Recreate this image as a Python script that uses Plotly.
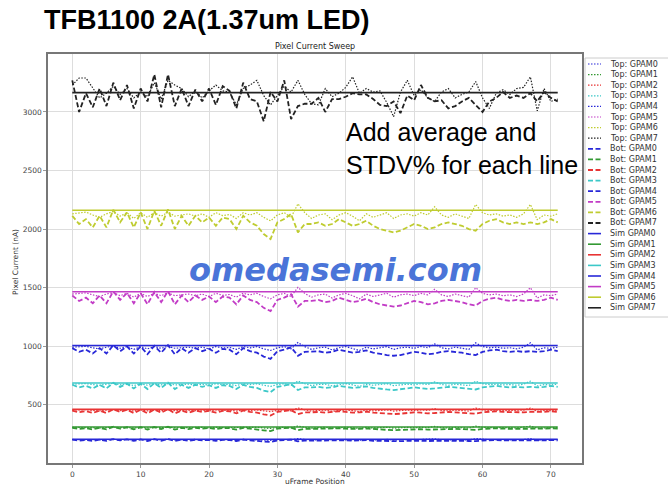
import plotly.graph_objects as go

frames = list(range(72))
gpam_names = ["GPAM0", "GPAM1", "GPAM2", "GPAM3", "GPAM4", "GPAM5", "GPAM6", "GPAM7"]
colors = ["#2828d8", "#339933", "#e83434", "#3cc8c8", "#2828d8", "#c23cc6", "#bfcc30", "#222222"]
sim_values = [205, 310, 460, 685, 1005, 1465, 2160, 3165]

top_gpam0 = [202, 203, 204, 201, 199, 202, 204, 200, 203, 198, 203, 199, 203, 200, 204, 200, 201, 202, 200, 202,
             199, 203, 201, 202, 198, 203, 201, 203, 199, 196, 201, 203, 199, 210, 203, 198, 201, 202, 197, 201,
             203, 200, 196, 202, 199, 201, 203, 198, 201, 202, 200, 203, 201, 208, 201, 199, 202, 200, 198, 210,
             203, 201, 202, 200, 201, 199, 202, 210, 197, 201, 200, 202]
top_gpam1 = [306, 307, 308, 304, 301, 306, 309, 303, 307, 300, 307, 301, 307, 303, 308, 303, 304, 306, 303, 306,
             301, 307, 304, 305, 300, 307, 304, 307, 301, 297, 304, 307, 301, 318, 307, 300, 304, 306, 299, 304,
             307, 303, 297, 306, 301, 304, 307, 300, 304, 306, 303, 307, 304, 314, 304, 301, 306, 303, 300, 317,
             307, 304, 306, 303, 304, 301, 306, 317, 299, 304, 303, 306]
top_gpam2 = [454, 456, 457, 451, 447, 454, 458, 449, 456, 445, 456, 447, 456, 449, 457, 449, 451, 454, 449, 454,
             447, 456, 450, 453, 445, 456, 451, 456, 447, 441, 451, 456, 447, 472, 456, 445, 451, 454, 443, 451,
             456, 449, 441, 454, 447, 451, 456, 445, 451, 454, 449, 456, 451, 466, 451, 447, 454, 449, 445, 471,
             456, 451, 454, 449, 451, 447, 454, 471, 443, 451, 449, 454]
top_gpam3 = [675, 679, 680, 672, 666, 675, 682, 669, 679, 663, 679, 666, 679, 669, 680, 669, 672, 675, 669, 675,
             666, 679, 671, 674, 663, 679, 672, 679, 666, 656, 672, 679, 666, 702, 679, 663, 672, 675, 660, 672,
             679, 669, 656, 675, 666, 672, 679, 663, 672, 675, 669, 679, 672, 695, 672, 666, 675, 669, 663, 701,
             679, 672, 675, 669, 672, 666, 675, 701, 660, 672, 669, 675]
top_gpam4 = [991, 996, 998, 986, 977, 991, 1000, 982, 996, 972, 996, 977, 996, 982, 998, 982, 986, 991, 982, 991,
             977, 996, 984, 989, 972, 996, 986, 996, 977, 963, 986, 996, 977, 1031, 996, 972, 986, 991, 968, 986,
             996, 982, 963, 991, 977, 986, 996, 972, 986, 991, 982, 996, 986, 1019, 986, 977, 991, 982, 972, 1028,
             996, 986, 991, 982, 986, 977, 991, 1028, 968, 986, 982, 991]
top_gpam5 = [1445, 1451, 1455, 1438, 1424, 1445, 1458, 1431, 1451, 1418, 1451, 1424, 1451, 1431, 1455, 1431, 1438,
             1445, 1431, 1445, 1424, 1451, 1434, 1441, 1418, 1451, 1438, 1451, 1424, 1404, 1438, 1451, 1424, 1502,
             1451, 1418, 1438, 1445, 1411, 1438, 1451, 1431, 1404, 1445, 1424, 1438, 1451, 1418, 1438, 1445, 1431,
             1451, 1438, 1485, 1438, 1424, 1445, 1431, 1418, 1499, 1451, 1438, 1445, 1431, 1438, 1424, 1445, 1499,
             1411, 1438, 1431, 1445]
top_gpam6 = [2130, 2140, 2145, 2120, 2100, 2130, 2150, 2110, 2140, 2090, 2140, 2100, 2140, 2110, 2145, 2110, 2120,
             2130, 2110, 2130, 2100, 2140, 2115, 2125, 2090, 2140, 2120, 2140, 2100, 2070, 2120, 2140, 2100, 2215,
             2140, 2090, 2120, 2130, 2080, 2120, 2140, 2110, 2070, 2130, 2100, 2120, 2140, 2090, 2120, 2130, 2110,
             2140, 2120, 2190, 2120, 2100, 2130, 2110, 2090, 2210, 2140, 2120, 2130, 2110, 2120, 2100, 2130, 2210,
             2080, 2120, 2110, 2130]
top_gpam7 = [3230, 3290, 3290, 3200, 3120, 3160, 3220, 3150, 3200, 3120, 3170, 3130, 3250, 3110, 3270, 3230, 3200,
             3130, 3180, 3120, 3180, 3230, 3180, 3170, 3060, 3200, 3230, 3270, 3140, 3060, 3140, 3220, 3170, 3270,
             3150, 3070, 3060, 3200, 3130, 3160, 3210, 3300, 3160, 3200, 3170, 3180, 3080, 2960, 3170, 3270, 3140,
             3190, 3120, 3090, 3170, 3200, 3120, 3150, 3170, 3260, 3120, 3030, 3160, 3190, 3150, 3200, 3210, 3300,
             3010, 3200, 3090, 3110]

bot_gpam0 = [201, 194, 198, 191, 201, 191, 205, 195, 203, 191, 203, 190, 205, 192, 206, 190, 201, 192, 201, 195,
             199, 192, 199, 198, 190, 201, 195, 192, 186, 182, 195, 198, 202, 187, 194, 194, 195, 192, 194, 198,
             195, 192, 194, 197, 192, 190, 188, 187, 188, 191, 194, 192, 190, 191, 194, 195, 194, 192, 190, 188,
             194, 197, 198, 195, 194, 195, 194, 195, 194, 195, 198, 195]
bot_gpam1 = [303, 293, 299, 289, 303, 289, 311, 295, 307, 289, 307, 287, 309, 291, 311, 287, 303, 291, 303, 295,
             301, 291, 301, 299, 287, 303, 295, 291, 281, 275, 295, 299, 305, 283, 293, 293, 295, 291, 293, 299,
             295, 291, 293, 297, 291, 287, 285, 283, 285, 289, 293, 291, 287, 289, 293, 295, 293, 291, 287, 285,
             293, 297, 299, 295, 293, 295, 293, 295, 293, 295, 299, 295]
bot_gpam2 = [450, 435, 444, 429, 450, 429, 461, 438, 456, 429, 456, 426, 459, 432, 462, 426, 450, 432, 450, 438,
             447, 432, 447, 444, 426, 450, 438, 432, 417, 408, 438, 444, 453, 420, 435, 435, 438, 432, 435, 444,
             438, 432, 435, 441, 432, 426, 423, 420, 423, 429, 435, 432, 426, 429, 435, 438, 435, 432, 426, 423,
             435, 441, 444, 438, 435, 438, 435, 438, 435, 438, 444, 438]
bot_gpam3 = [670, 648, 661, 639, 670, 639, 687, 652, 679, 639, 679, 634, 684, 643, 688, 634, 670, 643, 670, 652,
             666, 643, 666, 661, 634, 670, 652, 643, 621, 607, 652, 661, 675, 625, 648, 648, 652, 643, 648, 661,
             652, 643, 648, 657, 643, 634, 630, 625, 630, 639, 648, 643, 634, 639, 648, 652, 648, 643, 634, 630,
             648, 657, 661, 652, 648, 652, 648, 652, 648, 652, 661, 652]
bot_gpam4 = [983, 951, 970, 937, 983, 937, 1007, 957, 997, 937, 997, 931, 1003, 944, 1009, 931, 983, 944, 983, 957,
             977, 944, 977, 970, 931, 983, 957, 944, 911, 891, 957, 970, 990, 918, 951, 951, 957, 944, 951, 970,
             957, 944, 951, 964, 944, 931, 924, 918, 924, 937, 951, 944, 931, 937, 951, 957, 951, 944, 931, 924,
             951, 964, 970, 957, 951, 957, 951, 957, 951, 957, 970, 957]
bot_gpam5 = [1433, 1386, 1414, 1366, 1433, 1366, 1468, 1395, 1453, 1366, 1453, 1357, 1462, 1376, 1470, 1357, 1433,
             1376, 1433, 1395, 1424, 1376, 1424, 1414, 1357, 1433, 1395, 1376, 1327, 1299, 1395, 1414, 1443, 1338,
             1386, 1386, 1395, 1376, 1386, 1414, 1395, 1376, 1386, 1405, 1376, 1357, 1347, 1338, 1347, 1366, 1386,
             1376, 1357, 1366, 1386, 1395, 1386, 1376, 1357, 1347, 1386, 1405, 1414, 1395, 1386, 1395, 1386, 1395,
             1386, 1395, 1414, 1395]
bot_gpam6 = [2113, 2043, 2085, 2014, 2113, 2014, 2165, 2057, 2142, 2014, 2142, 2000, 2156, 2028, 2168, 2000, 2113,
             2028, 2113, 2057, 2099, 2028, 2099, 2085, 2000, 2113, 2057, 2028, 1957, 1915, 2057, 2085, 2128, 1972,
             2043, 2043, 2057, 2028, 2043, 2085, 2057, 2028, 2043, 2071, 2028, 2000, 1986, 1972, 1986, 2014, 2043,
             2028, 2000, 2014, 2043, 2057, 2043, 2028, 2000, 1986, 2043, 2071, 2085, 2057, 2043, 2057, 2043, 2057,
             2043, 2057, 2085, 2057]
bot_gpam7 = [3270, 3000, 3160, 3040, 3200, 3050, 3250, 3100, 3230, 3030, 3200, 3090, 3320, 3040, 3320, 3050, 3200,
             3050, 3190, 3090, 3200, 3060, 3220, 3180, 3030, 3250, 3110, 3090, 2920, 3170, 3090, 3270, 2940, 3050,
             3070, 3070, 3120, 3000, 3110, 3110, 3130, 3160, 3150, 3150, 3110, 3060, 3050, 3090, 2990, 3140, 3100,
             3230, 3120, 3090, 3100, 3030, 3050, 3090, 3120, 3060, 3000, 3090, 3120, 3170, 3120, 3140, 3120, 3160,
             3090, 3170, 3120, 3090]

top_series = [top_gpam0, top_gpam1, top_gpam2, top_gpam3, top_gpam4, top_gpam5, top_gpam6, top_gpam7]
bot_series = [bot_gpam0, bot_gpam1, bot_gpam2, bot_gpam3, bot_gpam4, bot_gpam5, bot_gpam6, bot_gpam7]

x_ticks = [0, 10, 20, 30, 40, 50, 60, 70]
y_ticks = [500, 1000, 1500, 2000, 2500, 3000]

W, H = 668, 492
ML, MR, MT, MB = 48, 86, 54, 29
PW, PH = W - ML - MR, H - MT - MB


def px(x):
    return (x - ML) / PW


def py(y):
    return (H - MB - y) / PH


DOT = "1.5px,1.5px"
DASH = "5px,2.5px"

fig = go.Figure()
for name, col, ys in zip(gpam_names, colors, top_series):
    fig.add_trace(go.Scatter(x=frames, y=ys, mode="lines", name="Top: " + name,
                             line=dict(color=col, width=1.2, dash=DOT)))
for name, col, ys in zip(gpam_names, colors, bot_series):
    fig.add_trace(go.Scatter(x=frames, y=ys, mode="lines", name="Bot: " + name,
                             line=dict(color=col, width=1.8, dash=DASH)))
for name, col, s in zip(gpam_names, colors, sim_values):
    fig.add_trace(go.Scatter(x=frames, y=[s] * len(frames), mode="lines", name="Sim " + name,
                             line=dict(color=col, width=1.6)))

tick_font = dict(family="DejaVu Sans", size=7.5, color="#444444")
axis_common = dict(showgrid=True, gridcolor="#dddddd", gridwidth=1, zeroline=False,
                   showline=True, linecolor="#777777", linewidth=1.5, mirror=True,
                   ticks="outside", ticklen=3, tickcolor="#999999", tickfont=tick_font)

fig.update_layout(
    width=W, height=H,
    margin=dict(l=ML, r=MR, t=MT, b=MB),
    paper_bgcolor="white", plot_bgcolor="white",
    showlegend=False,
    xaxis=dict(range=[-3.55, 74.55], tickvals=x_ticks, **axis_common),
    yaxis=dict(range=[2, 3495], tickvals=y_ticks, **axis_common),
)

annotations = [
    dict(text="<b>TFB1100 2A(1.37um LED)</b>", x=px(42), y=py(20), xanchor="left", yanchor="middle",
         font=dict(family="Liberation Sans", size=27, color="black")),
    dict(text="Pixel Current Sweep", x=px(315), y=py(47), xanchor="center", yanchor="middle",
         font=dict(family="DejaVu Sans", size=8, color="#222222")),
    dict(text="uFrame Position", x=px(315), y=py(481), xanchor="center", yanchor="middle",
         font=dict(family="DejaVu Sans", size=7.5, color="#333333")),
    dict(text="Pixel Current (nA)", x=px(15), y=py(262), xanchor="center", yanchor="middle", textangle=-90,
         font=dict(family="DejaVu Sans", size=7.5, color="#333333")),
    dict(text="Add average and<br>STDV% for each line", x=px(344), y=py(148), xanchor="left",
         yanchor="middle", align="left",
         font=dict(family="Liberation Sans", size=25, color="black")),
    dict(text="<b><i>omedasemi.com</i></b>", x=px(335), y=py(270), xanchor="center", yanchor="middle",
         font=dict(family="DejaVu Sans", size=32, color="#4a74d8")),
]

shapes = [dict(type="rect", xref="paper", yref="paper", x0=px(585), x1=px(720), y0=py(58), y1=py(317),
               fillcolor="white", line=dict(color="#cccccc", width=1), layer="above")]

legend_items = []
for name, col in zip(gpam_names, colors):
    legend_items.append(("Top: " + name, col, DOT, 1.2))
for name, col in zip(gpam_names, colors):
    legend_items.append(("Bot: " + name, col, DASH, 1.8))
for name, col in zip(gpam_names, colors):
    legend_items.append(("Sim " + name, col, "solid", 1.6))

for i, (label, col, dash, lw) in enumerate(legend_items):
    yy = 64 + i * 10.6
    shapes.append(dict(type="line", xref="paper", yref="paper", x0=px(588), x1=px(601), y0=py(yy), y1=py(yy),
                       line=dict(color=col, width=lw, dash=dash), layer="above"))
    annotations.append(dict(text=label, x=px(608), y=py(yy), xanchor="left", yanchor="middle",
                            showarrow=False, font=dict(family="DejaVu Sans", size=8, color="#333333")))

for a in annotations:
    a.setdefault("showarrow", False)
    a["xref"] = "paper"
    a["yref"] = "paper"

fig.update_layout(annotations=annotations, shapes=shapes)
fig.write_html("out.html")
